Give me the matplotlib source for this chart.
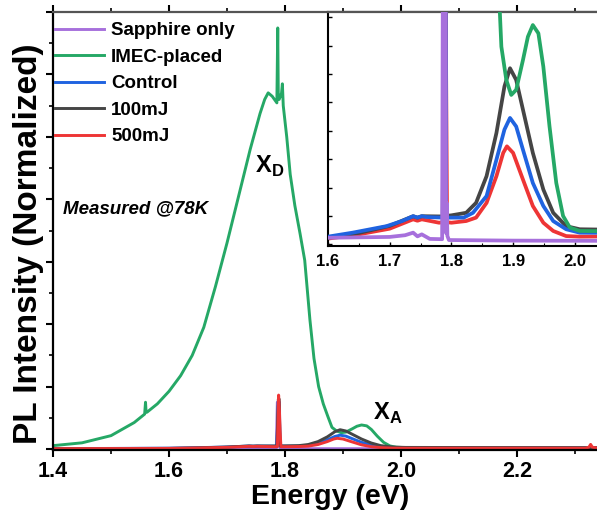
import numpy as np
import matplotlib
matplotlib.use("Agg")
import matplotlib.pyplot as plt
from matplotlib.ticker import MultipleLocator

plt.rcParams['font.family'] = ['Liberation Sans', 'DejaVu Sans']
plt.rcParams['font.weight'] = 'bold'
plt.rcParams['mathtext.fontset'] = 'custom'
plt.rcParams['mathtext.bf'] = 'Liberation Sans:bold'
plt.rcParams['mathtext.rm'] = 'Liberation Sans:bold'

# PL spectra at 78 K, normalized intensity vs photon energy (eV)
sapphire_e = [1.40, 1.60, 1.70, 1.725, 1.738, 1.745, 1.752, 1.765, 1.785, 1.7868, 1.7875,
              1.7905, 1.7912, 1.7925, 1.7935, 1.796, 1.90, 2.10, 2.34]
sapphire_i = [0.0018, 0.0023, 0.0026, 0.0032, 0.0041, 0.0028, 0.0035, 0.0019, 0.0018, 0.15, 0.15,
              0.15, 0.004, 0.0146, 0.003, 0.0015, 0.0013, 0.0012, 0.001]

imec_e = [1.40, 1.45, 1.50, 1.54, 1.558, 1.5595, 1.5605, 1.562, 1.58, 1.60, 1.62, 1.64, 1.66,
          1.68, 1.70, 1.72, 1.74, 1.757, 1.765, 1.771, 1.778, 1.786, 1.7875, 1.7885, 1.790,
          1.794, 1.7955, 1.797, 1.803, 1.809, 1.817, 1.826, 1.834, 1.843, 1.850, 1.858, 1.866,
          1.874, 1.881, 1.889, 1.897, 1.905, 1.916, 1.924, 1.932, 1.941, 1.949, 1.959, 1.970,
          1.981, 1.992, 2.008, 2.10, 2.20, 2.34]
imec_i = [0.011, 0.020, 0.043, 0.085, 0.112, 0.150, 0.118, 0.118, 0.145, 0.185, 0.235, 0.30,
          0.39, 0.52, 0.66, 0.81, 0.96, 1.075, 1.12, 1.141, 1.13, 1.109, 1.349, 1.12, 1.12,
          1.14, 1.17, 1.10, 1.00, 0.88, 0.78, 0.69, 0.605, 0.414, 0.29, 0.20, 0.145,
          0.104, 0.0696, 0.0579, 0.0526, 0.0544, 0.0649, 0.0731, 0.0772, 0.0743, 0.0626, 0.0416,
          0.0216, 0.0100, 0.0059, 0.0047, 0.0045, 0.0042, 0.004]

control_e = [1.40, 1.50, 1.60, 1.64, 1.695, 1.72, 1.738, 1.745, 1.752, 1.76, 1.786, 1.7885,
             1.790, 1.7915, 1.80, 1.82, 1.835, 1.857, 1.873, 1.886, 1.895, 1.905, 1.916, 1.932,
             1.949, 1.965, 1.986, 2.008, 2.10, 2.20, 2.34]
control_i = [0.0015, 0.002, 0.0027, 0.0041, 0.0064, 0.0082, 0.0099, 0.0094, 0.0099, 0.0096,
             0.0094, 0.14, 0.14, 0.0094, 0.0094, 0.0094, 0.0111, 0.017, 0.0298, 0.0404, 0.0445,
             0.0415, 0.0333, 0.0216, 0.0135, 0.0082, 0.0053, 0.0041, 0.0040, 0.0038, 0.0036]

mj100_e = [1.40, 1.50, 1.60, 1.65, 1.70, 1.738, 1.745, 1.752, 1.786, 1.7885, 1.790, 1.7915,
           1.80, 1.824, 1.84, 1.857, 1.873, 1.886, 1.895, 1.905, 1.916, 1.932, 1.949, 1.965,
           1.986, 2.008, 2.10, 2.20, 2.34]
mj100_i = [0.0013, 0.0018, 0.0023, 0.004, 0.0065, 0.0099, 0.0094, 0.0099, 0.0098, 0.16, 0.16,
           0.0100, 0.0102, 0.0111, 0.0146, 0.024, 0.0392, 0.0556, 0.062, 0.0579, 0.0474, 0.0322,
           0.0193, 0.0111, 0.0064, 0.0053, 0.005, 0.0048, 0.0045]

mj500_e = [1.40, 1.50, 1.60, 1.65, 1.70, 1.738, 1.745, 1.752, 1.78, 1.787, 1.789, 1.7905,
           1.7915, 1.793, 1.80, 1.824, 1.84, 1.857, 1.873, 1.884, 1.89, 1.90, 1.916, 1.932,
           1.949, 1.965, 1.986, 2.008, 2.20, 2.318, 2.324, 2.327, 2.330, 2.336]
mj500_i = [0.0012, 0.0016, 0.002, 0.0035, 0.0055, 0.0088, 0.0083, 0.0088, 0.0076, 0.0078,
           0.173, 0.12, 0.06, 0.0078, 0.0076, 0.0082, 0.0094, 0.0146, 0.024, 0.0322, 0.0345,
           0.0322, 0.0228, 0.0135, 0.0076, 0.0047, 0.0029, 0.0027, 0.003, 0.003, 0.006, 0.015,
           0.006, 0.004]

labels = ['Sapphire only', 'IMEC-placed', 'Control', '100mJ', '500mJ']
colors = ['#a770dc', '#25a866', '#1f63e0', '#454545', '#ee3535']
series = [(sapphire_e, sapphire_i), (imec_e, imec_i), (control_e, control_i),
          (mj100_e, mj100_i), (mj500_e, mj500_i)]

fig = plt.figure(figsize=(5.97, 5.20), dpi=100)
ax = fig.add_axes([0.0888, 0.1346, 0.9112, 0.8423])

for (e, i), lab, c in zip(series, labels, colors):
    ax.plot(e, i, color=c, lw=2.1, label=lab)

ax.set_xlim(1.4, 2.338)
ax.set_ylim(-0.003, 1.4)
ax.xaxis.set_major_locator(MultipleLocator(0.2))
ax.xaxis.set_minor_locator(MultipleLocator(0.1))
ax.yaxis.set_major_locator(MultipleLocator(0.2))
ax.yaxis.set_minor_locator(MultipleLocator(0.1))
ax.set_xticks([1.4, 1.6, 1.8, 2.0, 2.2])
ax.tick_params(axis='both', which='major', direction='out', length=5, width=1.5,
               labelsize=15.5, pad=3)
ax.tick_params(axis='both', which='minor', direction='out', length=3, width=1.2)
ax.tick_params(axis='x', top=True, which='both')
ax.tick_params(axis='y', labelleft=False)
for lab in ax.get_xticklabels():
    lab.set_fontweight('bold')
for s in ['left', 'bottom']:
    ax.spines[s].set_linewidth(1.6)
ax.spines['top'].set_linewidth(1.6)
ax.spines['top'].set_color('#555555')
ax.spines['right'].set_visible(False)

ax.set_xlabel('Energy (eV)', fontsize=20.5, fontweight='bold')
ax.set_ylabel('PL Intensity (Normalized)', fontsize=24, fontweight='bold')
ax.xaxis.set_label_coords(0.509, -0.078)
ax.yaxis.set_label_coords(-0.017, 0.47)

leg = ax.legend(loc='upper left', bbox_to_anchor=(0.004, 0.977), frameon=False,
                borderaxespad=0, borderpad=0, handlelength=2.6, handletextpad=0.38,
                labelspacing=0.5, prop={'size': 13.5, 'weight': 'bold'})

ax.text(0.018, 0.55, 'Measured @78K', transform=ax.transAxes, fontsize=13.5,
        fontweight='bold', style='italic', va='center', ha='left')
ax.text(1.774, 0.904, r'$\mathbf{X}_\mathbf{D}$', fontsize=17, ha='center', va='center')
ax.text(1.978, 0.115, r'$\mathbf{X}_\mathbf{A}$', fontsize=17, ha='center', va='center')

# zoomed inset around the A exciton
ins = fig.add_axes([0.5494, 0.5269, 0.4506, 0.45])
inset_order = [4, 3, 2, 1, 0]
for z, k in enumerate(inset_order):
    e, i = series[k]
    ins.plot(e, i, color=colors[k], lw=2.7, zorder=2 + z)
ins.set_xlim(1.6, 2.036)
ins.set_ylim(-0.0006, 0.0818)
ins.xaxis.set_major_locator(MultipleLocator(0.1))
ins.xaxis.set_minor_locator(MultipleLocator(0.05))
ins.yaxis.set_major_locator(MultipleLocator(0.01))
ins.tick_params(axis='both', which='major', direction='in', length=3, width=1.0,
                labelsize=12, pad=6)
ins.tick_params(axis='both', which='minor', direction='in', length=2, width=0.8)
ins.tick_params(axis='y', labelleft=False)
ins.set_xticks([1.6, 1.7, 1.8, 1.9, 2.0])
ins.set_xticklabels(['1.6', '1.7', '1.8', '1.9', '2.0'], fontweight='bold')
ins.spines['left'].set_linewidth(1.5)
ins.spines['bottom'].set_linewidth(1.5)
ins.spines['top'].set_linewidth(1.6)
ins.spines['top'].set_color('#555555')
ins.spines['right'].set_visible(False)

fig.savefig('out.png', dpi=100)
